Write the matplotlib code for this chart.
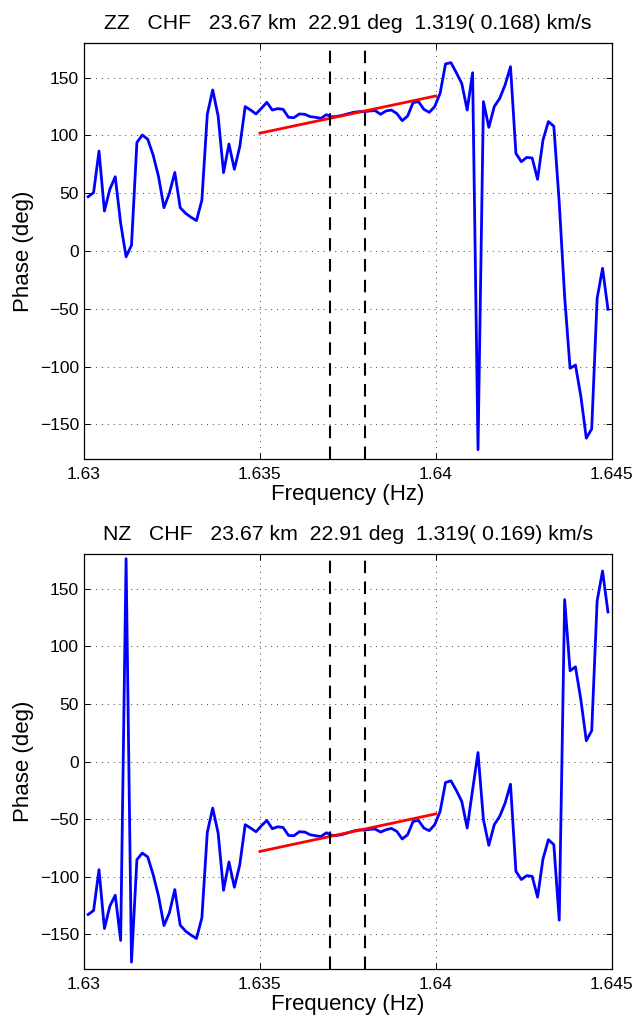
import numpy as np
import matplotlib
matplotlib.use('Agg')
import matplotlib.pyplot as plt
from matplotlib.ticker import FixedLocator, FormatStrFormatter

plt.rcParams['font.family'] = ['Liberation Sans', 'DejaVu Sans']

# frequency sampling grid (Hz), 97 samples
FREQ = np.linspace(1.63012, 1.64489, 97)

# phase (deg), ZZ component
PHASE_ZZ = [
    47, 50.5, 86.5, 34.6, 53.4, 64.3, 24, -5, 5, 94,
    100.4, 96.7, 83, 64.3, 37.5, 50, 68, 37.5, 32.6, 29.2,
    26.3, 44, 118.3, 139.4, 116.8, 67.8, 92.6, 70.7, 90.3, 125,
    122, 118.6, 123.5, 128.7, 122, 123.2, 122.6, 115.7, 115.4, 118.6,
    118.3, 116.3, 115.7, 114.8, 118, 116, 116.6, 117.5, 118.8, 120,
    120.6, 120.6, 121.2, 121.5, 118.3, 121.2, 122, 119, 112.8, 116.8,
    128.4, 129.3, 122.6, 120, 125, 136.5, 161.9, 163, 154.3, 145,
    122, 154.3, -172, 129.3, 107, 125, 132, 143.7, 159.5, 84.5,
    77.3, 81, 80.5, 62, 96, 112, 108, 42, -39.5, -101.5,
    -98.7, -126, -162, -154, -41, -15, -50.5,
]

# phase (deg), NZ component
PHASE_NZ = [
    -132.7, -129.3, -93.8, -144.9, -125.5, -116, -155.2, 176, -174, -85.1,
    -79.4, -82.8, -98.1, -116.9, -142.3, -131.3, -111.1, -142, -147.2, -150.6,
    -153.5, -135.6, -61.5, -40.4, -62, -111.7, -87.1, -109.1, -89.5, -54.8,
    -57.7, -60.9, -55.7, -51.1, -58.3, -56.6, -57.2, -64.1, -64.4, -60.9,
    -61.2, -63.5, -64.4, -65, -61.8, -64.1, -64.1, -63.2, -61.8, -60.3,
    -59.4, -59.4, -58.8, -58.6, -61.2, -59.2, -58, -60.6, -67.2, -63.5,
    -52, -51.1, -57.7, -60, -54.8, -43.3, -18.2, -16.7, -25.1, -34.6,
    -57.7, -24.5, 7.8, -50.5, -72.7, -54.8, -47.6, -36.1, -19.7, -95.2,
    -102.4, -99, -99.6, -117.7, -84.5, -67.8, -72.1, -137.6, 140.5, 78.7,
    82.2, 53.4, 18.1, 26.8, 139.3, 165.3, 129.8,
]

# linear fit segments (freq endpoints, phase endpoints)
FIT_F = [1.635, 1.640]
FIT_ZZ = [102.0, 134.2]
FIT_NZ = [-78.0, -45.4]

# window markers
WIN_F = [1.637, 1.638]

TITLES = [
    'ZZ   CHF   23.67 km  22.91 deg  1.319( 0.168) km/s',
    'NZ   CHF   23.67 km  22.91 deg  1.319( 0.169) km/s',
]

XTICKS = [1.63, 1.635, 1.64, 1.645]
YTICKS = [-150, -100, -50, 0, 50, 100, 150]

fig = plt.figure(figsize=(6.36, 10.17), dpi=100)
ax_top = fig.add_axes([0.132, 0.5487, 0.830, 0.409])
ax_bot = fig.add_axes([0.132, 0.0472, 0.830, 0.408])

panels = [
    (ax_top, PHASE_ZZ, FIT_ZZ, TITLES[0]),
    (ax_bot, PHASE_NZ, FIT_NZ, TITLES[1]),
]

for ax, phase, fit, title in panels:
    ax.plot(FREQ, phase, color='#0000ff', lw=2.0, zorder=3)
    ax.plot(FIT_F, fit, color='#ff0000', lw=2.0, zorder=4)
    for f in WIN_F:
        ax.axvline(f, color='k', lw=1.5, dashes=(6, 4), zorder=5)

    ax.set_xlim(1.63, 1.645)
    ax.set_ylim(-180, 180)
    ax.xaxis.set_major_locator(FixedLocator(XTICKS))
    ax.yaxis.set_major_locator(FixedLocator(YTICKS))
    ax.xaxis.set_major_formatter(FormatStrFormatter('%g'))
    ax.grid(True, color='0.25', lw=0.7, linestyle=(0, (1, 5)))
    ax.set_axisbelow(True)
    ax.tick_params(direction='in', length=4, width=0.7, top=True, right=True,
                   labelsize=12.5, colors='k')
    ax.tick_params(axis='x', pad=6)
    ax.tick_params(axis='y', pad=3.5)
    for sp in ax.spines.values():
        sp.set_linewidth(0.9)
    ax.set_title(title, fontsize=15.3, pad=10)
    ax.set_xlabel('Frequency (Hz)', fontsize=16, labelpad=1)
    ax.set_ylabel('Phase (deg)', fontsize=16, labelpad=4)

fig.savefig('out.png', dpi=100)
